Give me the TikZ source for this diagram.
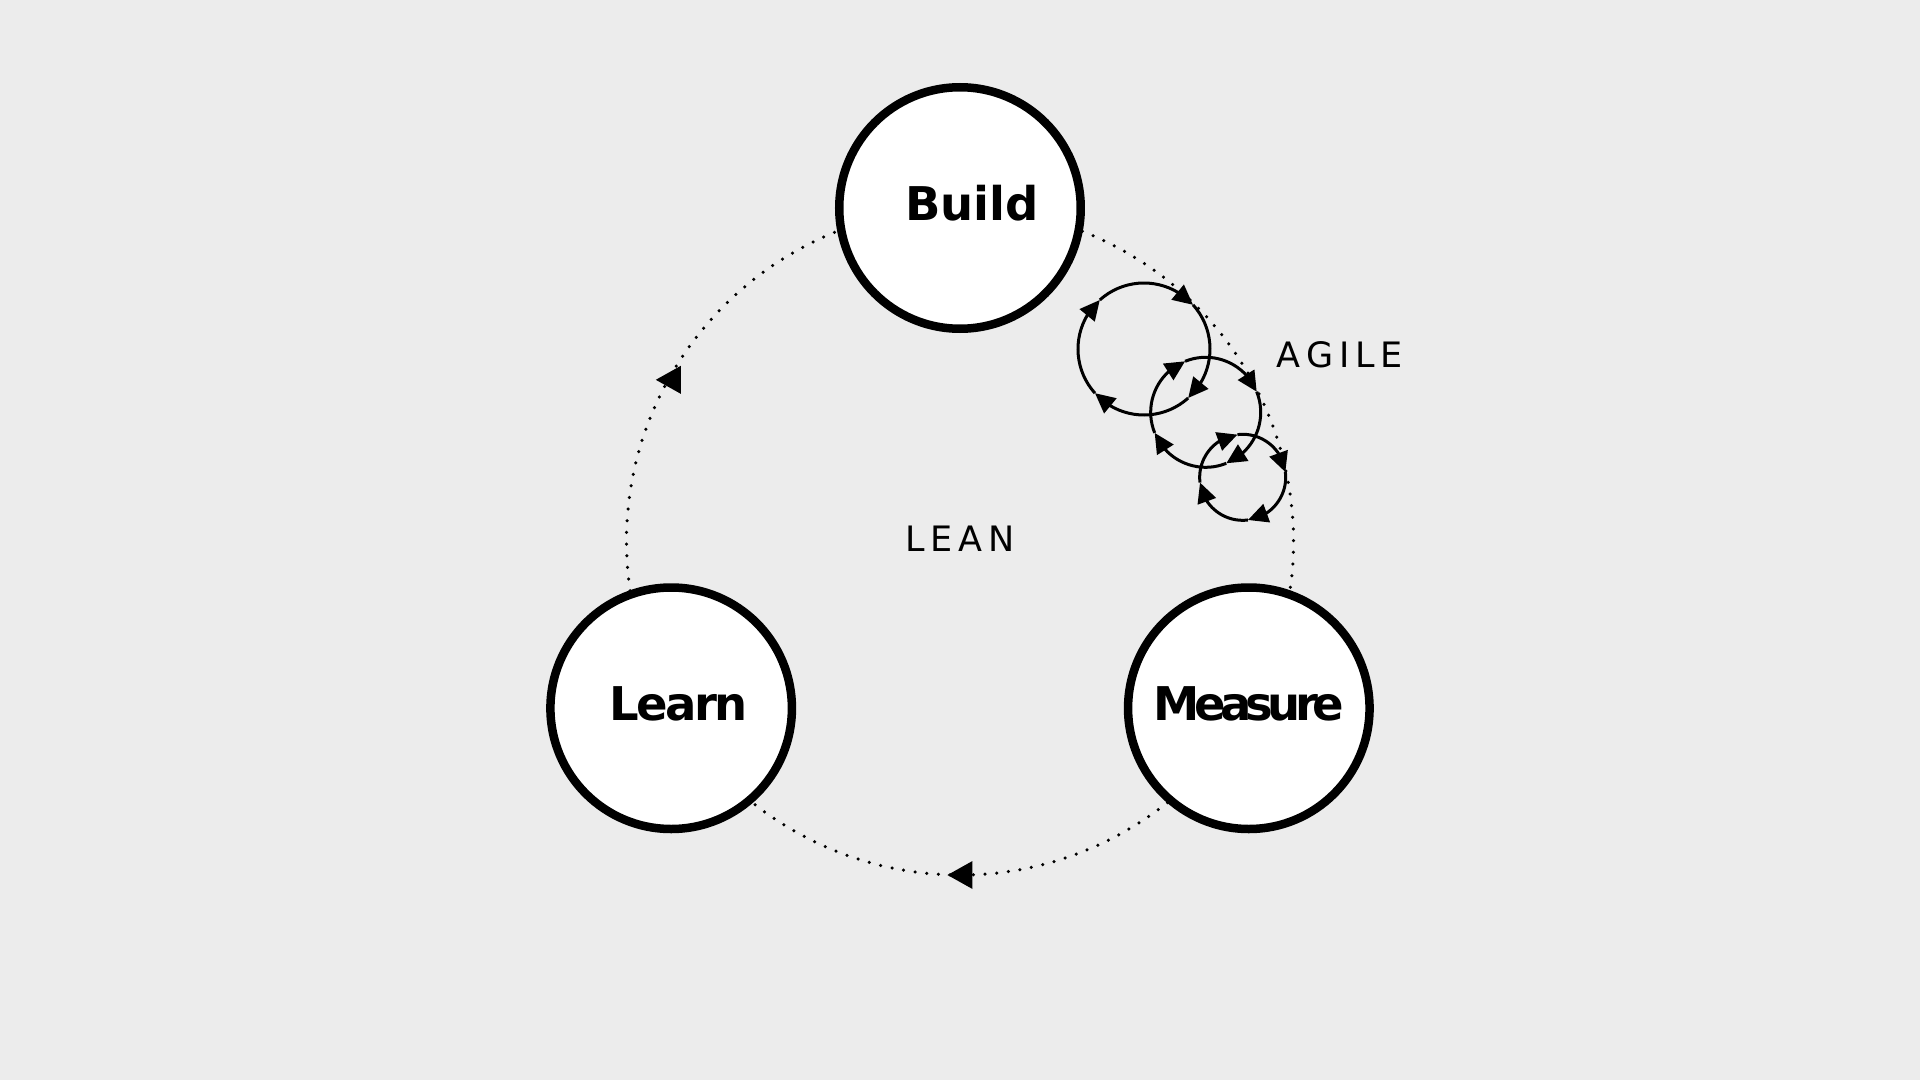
\documentclass[tikz,border=0pt]{standalone}
\usepackage{fontspec}
\setmainfont{DejaVu Sans}
\newfontfamily\spacedfont[LetterSpace=17]{DejaVu Sans}
\newfontfamily\tightfont[LetterSpace=-6]{DejaVu Sans}
\newfontfamily\tighterfont[LetterSpace=-12]{DejaVu Sans}
\usetikzlibrary{arrows.meta,bending,backgrounds}
\definecolor{canvas}{HTML}{ECECEC}

\begin{document}
\begin{tikzpicture}[x=1pt,y=1pt,>={Triangle[length=20pt,width=19pt]},
    stage/.style={circle,draw,fill=white,line width=8.5pt,inner sep=0pt,minimum size=241.5pt,text depth=10pt,font=\fontsize{46.5}{50}\selectfont\bfseries},
    leanpath/.style={line width=3.5pt,line cap=round,dash pattern=on 0pt off 11.7pt},
    agileloop/.style={->,line width=3pt},
    tagtext/.style={font=\fontsize{35}{40}\spacedfont}]

            \node[stage] (1) at (90:333.5) {\hspace*{24pt}Build};
            \node[stage] (2) at (330:333.5) {\tighterfont\bfseries Measure};
            \node[stage] (3) at (210:333.5) {\tightfont\bfseries\hspace*{15pt}Learn};

            \node[tagtext] (lean) at (0,3) {LEAN};
            \node[tagtext] (agile) at (380,187) {AGILE};

            \begin{scope}[on background layer]
            \path[use as bounding box,fill=canvas] (-960,-538.5) rectangle (960,541.5);
            \draw[leanpath] (1.center) arc[start angle=90, end angle=210, radius=333.5];
            \draw[leanpath] (3.center) arc[start angle=210, end angle=330, radius=333.5];
            \draw[leanpath] (2.center) arc[start angle=330, end angle=450, radius=333.5];
            \end{scope}

            % markers on the lean cycle
            \fill (151:333.5) ++(-12.5,0) -- ++(25,14) -- ++(0,-28) -- cycle;
            \fill (270:333.5) ++(-12.5,0) -- ++(25,14) -- ++(0,-28) -- cycle;

            % agile loops
            \foreach \px/\py/\rad/\off in {184/192.5/66/42, 245.7/129.2/55/22, 282.7/64.2/43/7}{
                \foreach \k in {0,1,2,3}{
                    \pgfmathsetmacro\ang{\off+90-90*\k}
                    \draw[agileloop] (\px,\py) ++(\ang:\rad) arc[start angle=\ang, delta angle=-90, radius=\rad];
                }
            }

            ;
        \end{tikzpicture}
\end{document}
